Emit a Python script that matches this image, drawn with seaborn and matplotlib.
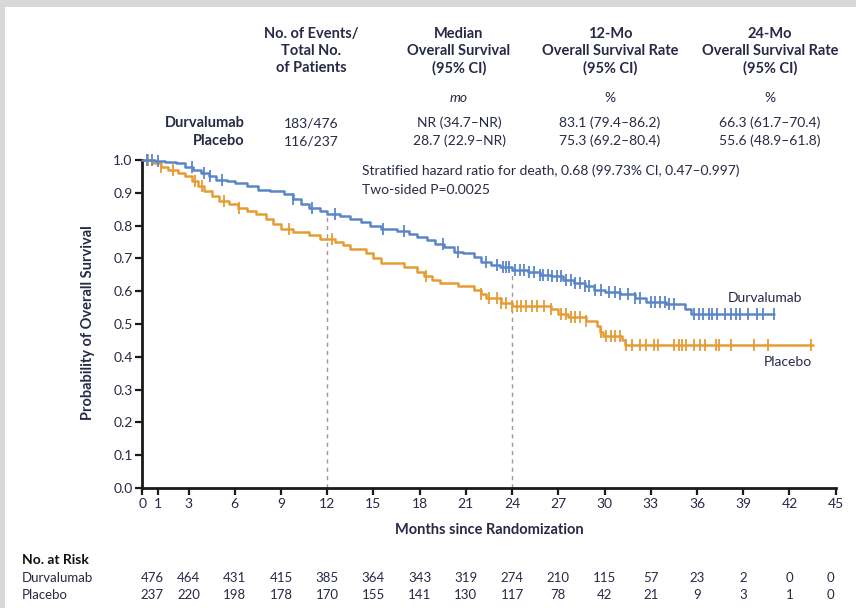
import numpy as np
import pandas as pd
import matplotlib
matplotlib.use("Agg")
import matplotlib.pyplot as plt
from matplotlib.patches import Rectangle
import seaborn as sns

# ---------------- data ----------------
dur_times = [0, 0.8, 1.5, 2.2, 2.8, 3.3, 3.8, 4.3, 4.8, 5.5, 6.0, 6.8, 7.5, 8.3, 9.2, 9.8,
             10.3, 10.8, 11.5, 12.0, 12.8, 13.5, 14.2, 14.8, 15.5, 16.5, 17.3, 17.8, 18.5,
             19.0, 19.6, 20.2, 20.8, 21.5, 22.0, 22.6, 23.2, 24.0, 25.0, 25.8, 26.5, 27.3,
             28.0, 28.7, 29.3, 30.0, 31.0, 32.0, 32.7, 34.0, 35.2, 35.6, 41.0]
dur_surv = [1.0, 0.997, 0.993, 0.99, 0.98, 0.97, 0.96, 0.95, 0.94, 0.935, 0.93, 0.92, 0.91,
            0.905, 0.895, 0.88, 0.865, 0.855, 0.845, 0.835, 0.83, 0.82, 0.81, 0.80, 0.79,
            0.785, 0.775, 0.765, 0.755, 0.745, 0.735, 0.72, 0.715, 0.705, 0.69, 0.68, 0.675,
            0.665, 0.66, 0.65, 0.645, 0.635, 0.625, 0.615, 0.605, 0.598, 0.59, 0.58, 0.568,
            0.56, 0.545, 0.53, 0.53]
dur_censor = [0.3, 0.6, 1.0, 3.2, 4.0, 4.4, 5.2, 9.8, 11.0, 12.5, 15.6, 17.0, 19.5, 20.5,
              22.3, 23.0, 23.4, 23.6, 23.8, 24.2, 24.5, 24.8, 25.1, 25.4, 25.8, 26.0, 26.3,
              26.6, 26.9, 27.2, 27.5, 27.8, 28.1, 28.4, 28.7, 29.0, 29.4, 29.8, 30.3, 30.7,
              31.0, 31.5, 32.0, 32.3, 33.0, 33.3, 33.6, 33.9, 34.2, 34.5, 35.8, 36.1, 36.4,
              36.8, 37.0, 37.3, 37.8, 38.2, 38.5, 38.8, 39.3, 39.9, 40.3, 41.0]

pla_times = [0, 0.7, 1.2, 1.7, 2.3, 2.8, 3.2, 3.6, 4.0, 4.5, 5.0, 5.6, 6.2, 6.8, 7.4, 8.0,
             8.5, 9.0, 9.8, 10.8, 11.5, 12.5, 13.0, 13.5, 14.5, 15.0, 15.5, 17.0, 17.8,
             18.3, 18.8, 19.3, 20.5, 21.5, 22.0, 22.3, 23.3, 24.0, 26.5, 27.0, 27.6, 28.8,
             29.5, 29.7, 29.9, 31.1, 31.3, 43.5]
pla_surv = [1.0, 0.99, 0.98, 0.97, 0.96, 0.95, 0.935, 0.92, 0.905, 0.89, 0.875, 0.865,
            0.855, 0.845, 0.835, 0.82, 0.805, 0.79, 0.78, 0.77, 0.76, 0.75, 0.74, 0.73,
            0.715, 0.70, 0.685, 0.675, 0.66, 0.645, 0.635, 0.625, 0.615, 0.605, 0.59, 0.58,
            0.565, 0.556, 0.545, 0.53, 0.52, 0.51, 0.495, 0.475, 0.462, 0.45, 0.437, 0.437]
pla_censor = [0.4, 1.2, 2.0, 3.4, 3.9, 5.3, 6.3, 9.5, 12.3, 18.4, 22.0, 22.5, 23.0, 23.3,
              23.6, 24.0, 24.3, 24.6, 24.9, 25.3, 25.6, 26.1, 26.5, 27.2, 27.5, 27.8, 28.1,
              28.4, 28.8, 29.8, 30.1, 30.4, 30.7, 31.0, 31.4, 31.8, 32.3, 32.7, 33.2, 33.5,
              34.5, 34.8, 35.0, 35.3, 35.8, 36.2, 36.5, 37.2, 37.4, 38.2, 39.7, 40.6, 43.4]

x_ticks = [0, 1, 3, 6, 9, 12, 15, 18, 21, 24, 27, 30, 33, 36, 39, 42, 45]
y_ticks = [0.0, 0.1, 0.2, 0.3, 0.4, 0.5, 0.6, 0.7, 0.8, 0.9, 1.0]
risk_times = [0, 3, 6, 9, 12, 15, 18, 21, 24, 27, 30, 33, 36, 39, 42, 45]
risk_dur = [476, 464, 431, 415, 385, 364, 343, 319, 274, 210, 115, 57, 23, 2, 0, 0]
risk_pla = [237, 220, 198, 178, 170, 155, 141, 130, 117, 78, 42, 21, 9, 3, 1, 0]

groups = ["Durvalumab", "Placebo"]
col_headers = ["No. of Events/\nTotal No.\nof Patients",
               "Median\nOverall Survival\n(95% CI)",
               "12-Mo\nOverall Survival Rate\n(95% CI)",
               "24-Mo\nOverall Survival Rate\n(95% CI)"]
col_units = ["", "mo", "%", "%"]
table_dur = ["183/476", "NR (34.7\u2013NR)", "83.1 (79.4\u201386.2)", "66.3 (61.7\u201370.4)"]
table_pla = ["116/237", "28.7 (22.9\u2013NR)", "75.3 (69.2\u201380.4)", "55.6 (48.9\u201361.8)"]
hr_text = ["Stratified hazard ratio for death, 0.68 (99.73% CI, 0.47\u20130.997)",
           "Two-sided P=0.0025"]

# ---------------- style ----------------
sns.set_theme(style="ticks")
FONT = ["Lato", "DejaVu Sans"]
plt.rcParams["font.family"] = FONT
TXT = "#262a45"
BLUE = "#5a86c8"
ORANGE = "#e69c35"
FRAME = "#d8d8d8"

W, H = 856, 608
fig = plt.figure(figsize=(W / 100, H / 100), dpi=100)
fig.patch.set_facecolor("white")
# thin grey frame on the left and top edges
fig.patches.append(Rectangle((0, 0), 5 / W, 1, transform=fig.transFigure,
                             facecolor=FRAME, edgecolor="none", zorder=-10))
fig.patches.append(Rectangle((0, 1 - 7 / H), 1, 7 / H, transform=fig.transFigure,
                             facecolor=FRAME, edgecolor="none", zorder=-10))


def fx(x):
    return x / W


def fy(y):
    return 1 - y / H


ax = fig.add_axes([fx(142.3), fy(488), fx(835.7) - fx(142.3), fy(160) - fy(488)])
ax.set_facecolor("none")

dur_df = pd.DataFrame({"t": dur_times, "s": dur_surv})
pla_df = pd.DataFrame({"t": pla_times, "s": pla_surv})
sns.lineplot(data=dur_df, x="t", y="s", ax=ax, color=BLUE, lw=1.8,
             drawstyle="steps-post", estimator=None, clip_on=False, zorder=3)
sns.lineplot(data=pla_df, x="t", y="s", ax=ax, color=ORANGE, lw=1.8,
             drawstyle="steps-post", estimator=None, clip_on=False, zorder=2)


def step_at(times, surv, c):
    idx = np.searchsorted(np.asarray(times), np.asarray(c), side="right") - 1
    return np.asarray(surv)[idx]


ax.plot(dur_censor, step_at(dur_times, dur_surv, dur_censor), ls="none", marker="|",
        ms=8, mew=1.3, color=BLUE, clip_on=False, zorder=3)
ax.plot(pla_censor, step_at(pla_times, pla_surv, pla_censor), ls="none", marker="|",
        ms=8, mew=1.3, color=ORANGE, clip_on=False, zorder=2)

for t in (12, 24):
    top = step_at(dur_times, dur_surv, [t])[0]
    ax.plot([t, t], [0, top], ls=(0, (3, 3)), color="#9a9a9a", lw=1.0, zorder=1)

ax.set_xlim(0, 45)
ax.set_ylim(0, 1.0)
ax.set_xticks(x_ticks)
ax.set_xticklabels([str(v) for v in x_ticks])
ax.set_yticks(y_ticks)
ax.set_yticklabels([f"{v:.1f}" for v in y_ticks])
for s in ("top", "right"):
    ax.spines[s].set_visible(False)
for s in ("left", "bottom"):
    ax.spines[s].set_linewidth(2.0)
    ax.spines[s].set_color("#1a1a1a")
ax.tick_params(axis="both", direction="out", length=5, width=1.6, color="#1a1a1a",
               labelsize=10, labelcolor=TXT, pad=2)
ax.set_xlabel("")
ax.set_ylabel("")

fig.text(fx(88), fy(323), "Probability of Overall Survival", rotation=90, ha="center",
         va="center", fontsize=10.5, fontweight="bold", color=TXT)
fig.text(fx(489), fy(530), "Months since Randomization", ha="center", va="center",
         fontsize=10.5, fontweight="bold", color=TXT)

# header table
col_x = [311, 459, 610, 770]
for cx, hdr, unit, vd, vp in zip(col_x, col_headers, col_units, table_dur, table_pla):
    fig.text(fx(cx), fy(27), hdr, ha="center", va="top", fontsize=10.5,
             fontweight="bold", color=TXT, linespacing=1.28)
    if unit:
        fig.text(fx(cx), fy(98), unit, ha="center", va="center", fontsize=10,
                 color=TXT, style="italic" if unit == "mo" else "normal")
    fig.text(fx(cx), fy(123), vd, ha="center", va="center", fontsize=10, color=TXT)
    fig.text(fx(cx), fy(141), vp, ha="center", va="center", fontsize=10, color=TXT)
fig.text(fx(245), fy(123), groups[0], ha="right", va="center", fontsize=10.5,
         fontweight="bold", color=TXT)
fig.text(fx(245), fy(141), groups[1], ha="right", va="center", fontsize=10.5,
         fontweight="bold", color=TXT)

fig.text(fx(362), fy(171), hr_text[0], ha="left", va="center", fontsize=10, color=TXT)
fig.text(fx(362), fy(190), hr_text[1], ha="left", va="center", fontsize=10, color=TXT)

fig.text(fx(728), fy(298), groups[0], ha="left", va="center", fontsize=10, color=TXT)
fig.text(fx(764), fy(362), groups[1], ha="left", va="center", fontsize=10, color=TXT)

# risk table
fig.text(fx(22), fy(560), "No. at Risk", ha="left", va="center", fontsize=10,
         fontweight="bold", color="#111111")
fig.text(fx(22), fy(578), groups[0], ha="left", va="center", fontsize=9.5, color=TXT)
fig.text(fx(22), fy(595), groups[1], ha="left", va="center", fontsize=9.5, color=TXT)
for i, (t, a, b) in enumerate(zip(risk_times, risk_dur, risk_pla)):
    xd = ax.transData.transform((t, 0))[0]
    xfig = fig.transFigure.inverted().transform((xd, 0))[0]
    if i == 0:
        xfig += 10 / W
    elif i == len(risk_times) - 1:
        xfig -= 5 / W
    fig.text(xfig, fy(578), str(a), ha="center", va="center", fontsize=9.5, color=TXT)
    fig.text(xfig, fy(595), str(b), ha="center", va="center", fontsize=9.5, color=TXT)

fig.savefig("out.png", dpi=100, facecolor=fig.get_facecolor())
